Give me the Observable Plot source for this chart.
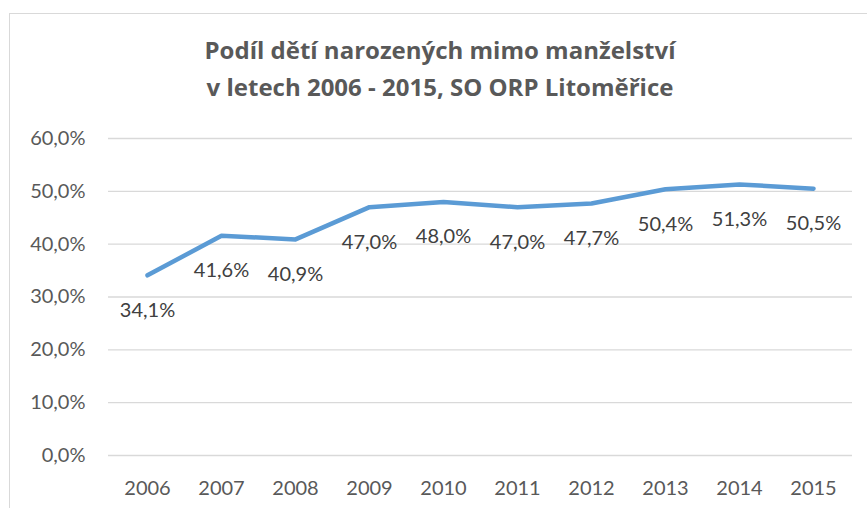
<!DOCTYPE html>
<html><head><meta charset="utf-8">
<script src="https://cdn.jsdelivr.net/npm/d3@7"></script>
<script src="https://cdn.jsdelivr.net/npm/@observablehq/plot@0.6"></script>
<style>
body{margin:0;background:#fff;font-family:Lato,sans-serif;}
#wrap{position:relative;width:867px;height:508px;overflow:hidden;background:#fff;}
#frame{position:absolute;left:9px;top:13px;width:900px;height:600px;border:1px solid #d9d9d9;box-sizing:border-box;}
#title{position:absolute;left:9px;width:862px;top:31px;text-align:center;font-family:"Open Sans",sans-serif;font-weight:bold;font-size:24px;line-height:37px;color:#595959;}
#chart{position:absolute;left:0;top:110px;}
</style>
</head><body>
<div id="wrap">
  <div id="frame"></div>
  <div id="title">Podíl dětí narozených mimo manželství<br>v letech 2006 - 2015, SO ORP Litoměřice</div>
  <div id="chart"></div>
</div>
<script>
const years = ["2006","2007","2008","2009","2010","2011","2012","2013","2014","2015"];
const shares = [34.1, 41.6, 40.9, 47.0, 48.0, 47.0, 47.7, 50.4, 51.3, 50.5];
const yTicks = [0, 10, 20, 30, 40, 50, 60];

const data = years.map((y, i) => ({year: y, value: shares[i]}));
const fmt = d => d.toFixed(1).replace(".", ",") + "%";

const chart = Plot.plot({
  width: 867,
  height: 398,
  marginTop: 28,
  marginBottom: 53,
  marginLeft: 108,
  marginRight: 15,
  style: {fontFamily: "Lato, sans-serif", fontSize: "20px", color: "#595959", background: "transparent", overflow: "visible"},
  x: {type: "point", domain: years, padding: 0.5, label: null},
  y: {domain: [0, 60], ticks: yTicks, label: null, tickFormat: fmt},
  marks: [
    Plot.ruleY(yTicks, {stroke: "#d9d9d9", strokeWidth: 1.3}),
    Plot.axisY({ticks: yTicks, tickSize: 0, tickPadding: 23, tickFormat: fmt, label: null, fontSize: 20}),
    Plot.axisX({tickSize: 0, tickPadding: 25, label: null, fontSize: 20}),
    Plot.line(data, {x: "year", y: "value", stroke: "#5b9bd5", strokeWidth: 4.5, strokeLinecap: "round", strokeLinejoin: "round"}),
    Plot.text(data, {x: "year", y: "value", text: d => fmt(d.value), dy: 35, fontSize: 20, fill: "#404040"})
  ]
});
document.getElementById("chart").appendChild(chart);
</script>
</body></html>
